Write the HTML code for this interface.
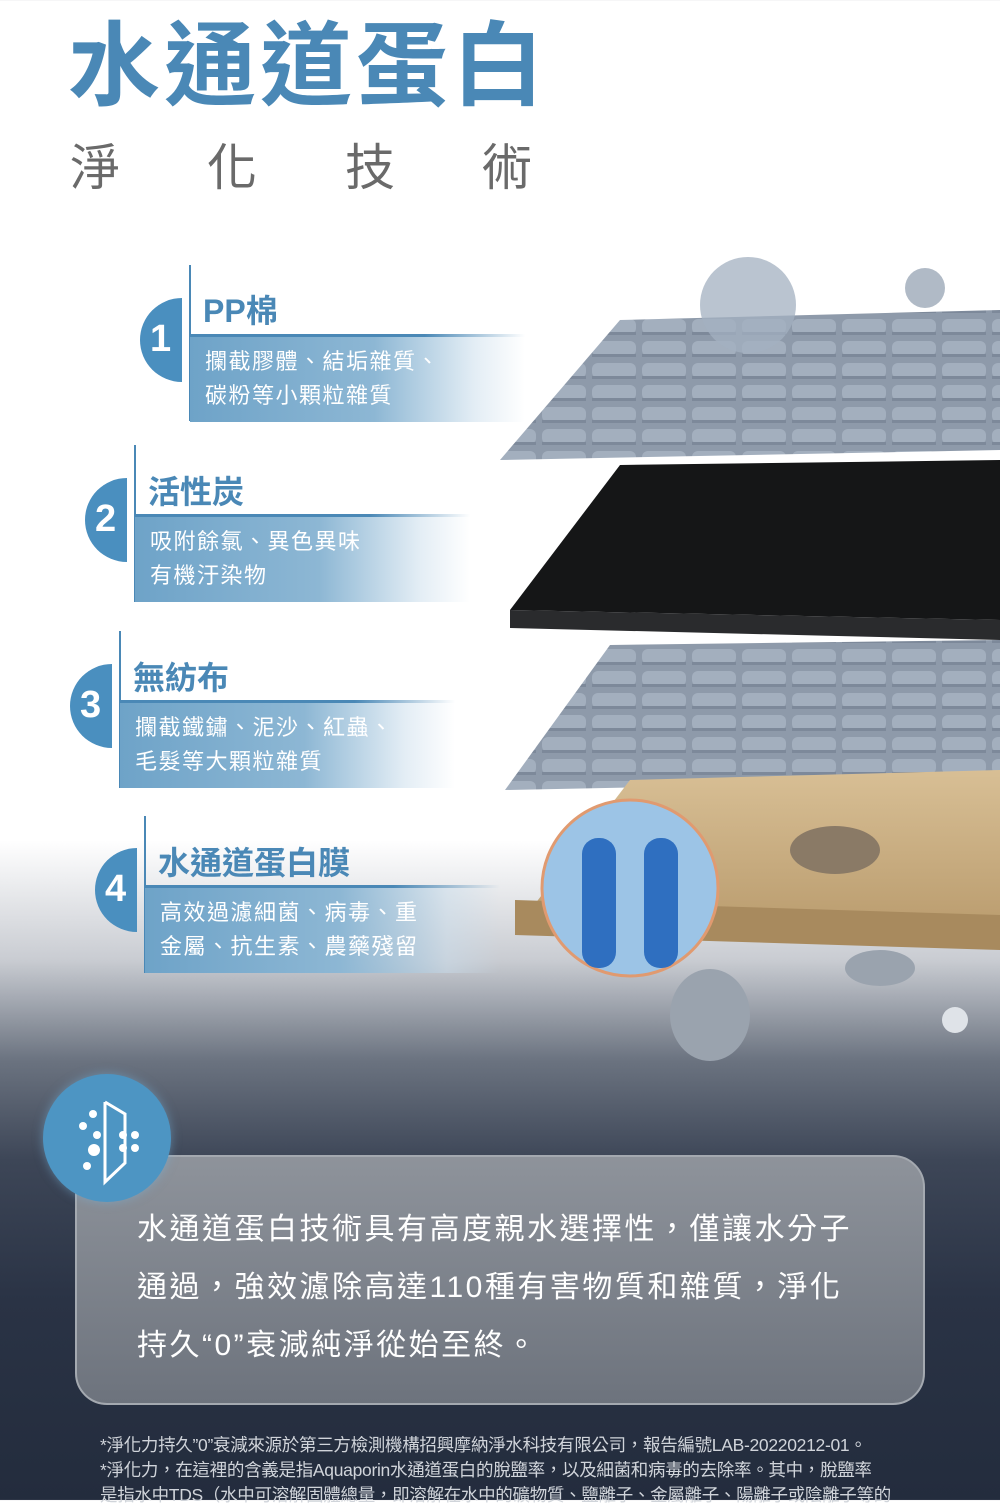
<!DOCTYPE html>
<html><head><meta charset="utf-8"><style>
*{margin:0;padding:0;box-sizing:border-box}
body{width:1000px;height:1500px;position:relative;overflow:hidden;font-family:"Liberation Sans","Noto Sans CJK TC",sans-serif;
background:linear-gradient(to bottom,#fff 0px,#fff 840px,#c9ccd2 960px,#6b7380 1060px,#3d4657 1160px,#2a3345 1300px,#232c3d 1500px)}
.a{position:absolute}
.t{color:#4a88b6;font-weight:bold}
.box{position:absolute;height:85px;background:linear-gradient(to right,#6ea3c8 0%,#8db7d4 55%,rgba(200,220,235,0.5) 85%,rgba(255,255,255,0) 100%);color:#fff;font-size:22px;line-height:34px;padding:8px 0 0 15px;letter-spacing:1.5px}
.hl{position:absolute;height:3px;background:linear-gradient(to right,#4a88b6 70%,rgba(74,136,182,0))}
.vl{position:absolute;width:2px;background:#4a88b6}
.num{position:absolute;width:84px;height:84px;border-radius:50%;background:#4a8fbf;clip-path:inset(0 50% 0 0);}
.nt{position:absolute;color:#fff;font-weight:bold;font-size:38px}
</style></head><body>
<div class="a t" style="left:68px;top:12px;font-size:92px;letter-spacing:4px;line-height:110px">水通道蛋白</div>
<div class="a" style="left:70px;top:138px;font-size:50px;color:#6a6a6a;line-height:60px">
<span class="a" style="left:0">淨</span><span class="a" style="left:137px">化</span><span class="a" style="left:275px">技</span><span class="a" style="left:412px">術</span></div>

<svg class="a" style="left:490px;top:250px" width="510" height="830">
<defs>
<pattern id="w" width="50" height="22" patternUnits="userSpaceOnUse"><rect width="50" height="22" fill="#8e9aaa"/><rect x="2" y="3" width="44" height="15" rx="6" fill="#a3afbe"/><rect x="2" y="16" width="44" height="3" fill="#7d899a"/></pattern>
<linearGradient id="tan" x1="0" y1="0" x2="0" y2="1"><stop offset="0" stop-color="#d8bf95"/><stop offset="1" stop-color="#b89a6c"/></linearGradient>
</defs>
<polygon points="130,70 510,60 510,200 10,210" fill="url(#w)"/>
<polygon points="130,215 510,210 510,370 20,360" fill="#151617"/>
<polygon points="20,360 510,370 510,390 20,378" fill="#2a2b2d"/>
<polygon points="120,395 510,390 510,530 15,540" fill="url(#w)"/>
<polygon points="140,530 510,520 510,690 25,680" fill="url(#tan)"/>
<polygon points="25,650 510,665 510,700 25,685" fill="#a88a5e"/>
<circle cx="258" cy="55" r="48" fill="#a3b0c0" opacity="0.75"/>
<circle cx="435" cy="38" r="20" fill="#b0bac6"/>
<ellipse cx="220" cy="765" rx="40" ry="46" fill="#9aa3ae"/>
<ellipse cx="390" cy="718" rx="35" ry="18" fill="#9aa3ae"/>
<circle cx="465" cy="770" r="13" fill="#dfe3e8"/>
<ellipse cx="345" cy="600" rx="45" ry="24" fill="#8a7a66"/>
<circle cx="140" cy="638" r="88" fill="#9cc4e6" stroke="#e09a70" stroke-width="3"/>
<rect x="92" y="588" width="34" height="130" rx="16" fill="#2f6fc0"/>
<rect x="154" y="588" width="34" height="130" rx="16" fill="#2f6fc0"/>
</svg>

<div class="vl" style="left:189px;top:265px;height:156px"></div>
<div class="num" style="left:140px;top:298px"></div><div class="nt" style="left:150px;top:318px">1</div>
<div class="a t" style="left:203px;top:286px;font-size:32px">PP棉</div>
<div class="hl" style="left:190px;top:334px;width:335px"></div>
<div class="box" style="left:190px;top:337px;width:335px">攔截膠體、結垢雜質、<br>碳粉等小顆粒雜質</div>
<div class="vl" style="left:134px;top:445px;height:157px"></div>
<div class="num" style="left:85px;top:478px"></div><div class="nt" style="left:95px;top:498px">2</div>
<div class="a t" style="left:148px;top:467px;font-size:32px">活性炭</div>
<div class="hl" style="left:135px;top:514px;width:335px"></div>
<div class="box" style="left:135px;top:517px;width:335px">吸附餘氯、異色異味<br>有機汙染物</div>
<div class="vl" style="left:119px;top:631px;height:157px"></div>
<div class="num" style="left:70px;top:664px"></div><div class="nt" style="left:80px;top:684px">3</div>
<div class="a t" style="left:133px;top:653px;font-size:32px">無紡布</div>
<div class="hl" style="left:120px;top:700px;width:335px"></div>
<div class="box" style="left:120px;top:703px;width:335px">攔截鐵鏽、泥沙、紅蟲、<br>毛髮等大顆粒雜質</div>
<div class="vl" style="left:144px;top:816px;height:157px"></div>
<div class="num" style="left:95px;top:848px"></div><div class="nt" style="left:105px;top:868px">4</div>
<div class="a t" style="left:158px;top:838px;font-size:32px">水通道蛋白膜</div>
<div class="hl" style="left:145px;top:885px;width:355px"></div>
<div class="box" style="left:145px;top:888px;width:355px">高效過濾細菌、病毒、重<br>金屬、抗生素、農藥殘留</div>

<div class="a" style="left:75px;top:1155px;width:850px;height:250px;border-radius:32px;background:linear-gradient(to bottom,#8e939b,#6d737d);border:2px solid #a4a9b0"></div>
<div class="a" style="left:137px;top:1201px;color:#fff;font-size:30px;line-height:58px;letter-spacing:2.5px;white-space:nowrap">水通道蛋白技術具有高度親水選擇性，僅讓水分子<br>通過，強效濾除高達110種有害物質和雜質，淨化<br>持久“0”衰減純淨從始至終。</div>
<div class="a" style="left:43px;top:1074px;width:128px;height:128px;border-radius:50%;background:#4d95c3;box-shadow:0 0 10px rgba(120,180,220,.5)"></div>
<svg class="a" style="left:43px;top:1074px" width="128" height="128">
<g fill="#fff"><circle cx="50" cy="40" r="4"/><circle cx="40" cy="52" r="4"/><circle cx="54" cy="61" r="4"/><circle cx="51" cy="76" r="6"/><circle cx="44" cy="92" r="4"/><circle cx="80" cy="61" r="4"/><circle cx="92" cy="61" r="4"/><circle cx="80" cy="74" r="4"/><circle cx="92" cy="74" r="4"/></g>
<polyline points="62,28 82,40 82,89 62,108 62,28" fill="none" stroke="#fff" stroke-width="3"/>
</svg>
<div class="a" style="left:100px;top:1433px;color:#d0d4da;font-size:17.5px;line-height:25px;white-space:nowrap;letter-spacing:-0.3px">*淨化力持久”0”衰減來源於第三方檢測機構招興摩納淨水科技有限公司，報告編號LAB-20220212-01。<br>*淨化力，在這裡的含義是指Aquaporin水通道蛋白的脫鹽率，以及細菌和病毒的去除率。其中，脫鹽率<br>是指水中TDS（水中可溶解固體總量，即溶解在水中的礦物質、鹽離子、金屬離子、陽離子或陰離子等的</div>
</body></html>
